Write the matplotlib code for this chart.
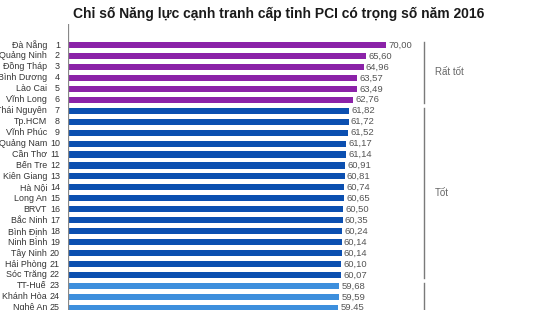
import matplotlib.pyplot as plt

plt.rcParams['font.family'] = ['Liberation Sans', 'DejaVu Sans']

# === Dữ liệu ===
provinces = ['Đà Nẵng', 'Quảng Ninh', 'Đồng Tháp', 'Bình Dương', 'Lào Cai', 'Vĩnh Long',
             'Thái Nguyên', 'Tp.HCM', 'Vĩnh Phúc', 'Quảng Nam', 'Cần Thơ', 'Bến Tre',
             'Kiên Giang', 'Hà Nội', 'Long An', 'BRVT', 'Bắc Ninh', 'Bình Định',
             'Ninh Bình', 'Tây Ninh', 'Hải Phòng', 'Sóc Trăng', 'TT-Huế', 'Khánh Hòa', 'Nghệ An']
ranks = list(range(1, 26))
scores = [70.00, 65.60, 64.96, 63.57, 63.49, 62.76, 61.82, 61.72, 61.52, 61.17, 61.14, 60.91,
          60.81, 60.74, 60.65, 60.50, 60.35, 60.24, 60.14, 60.14, 60.10, 60.07, 59.68, 59.59, 59.45]
groups = ['Rất tốt'] * 6 + ['Tốt'] * 16 + ['Khá'] * 3
group_labels = ['Rất tốt', 'Tốt', 'Khá']

colors = {'Rất tốt': '#8b22a8', 'Tốt': '#0b4fb0', 'Khá': '#3d8fdd'}

fig = plt.figure(figsize=(5.4, 3.1), dpi=100)
# trục bắt đầu tại x=68px, đỉnh tại y=24px
ax = fig.add_axes([68 / 540, 0, 472 / 540, 286 / 310])
ax.set_xlim(0, 472 / 4.549)
ax.set_ylim(24.2, -1.92)

ypos = list(range(len(scores)))
ax.barh(ypos, scores, height=0.56, color=[colors[g] for g in groups])

for y, v, name, r in zip(ypos, scores, provinces, ranks):
    ax.annotate(f'{v:.2f}'.replace('.', ','), xy=(v, y), xytext=(1.6, 0), textcoords='offset points',
                ha='left', va='center', fontsize=6.8, color='#555555')
    ax.annotate(name, xy=(0, y), xycoords=('axes fraction', 'data'), xytext=(-15.2, 0),
                textcoords='offset points', ha='right', va='center', fontsize=6.4, color='#333333')
    ax.annotate(str(r), xy=(0, y), xycoords=('axes fraction', 'data'), xytext=(-5.8, 0),
                textcoords='offset points', ha='right', va='center', fontsize=6.4, color='#333333')

# ngoặc nhóm bên phải
bx = 78.3
for g in group_labels:
    idx = [i for i, gg in enumerate(groups) if gg == g]
    top, bot = idx[0] - 0.28, idx[-1] + 0.28
    if g == group_labels[-1]:
        bot = 30
    ax.plot([bx, bx], [top, bot], color='#7a7a7a', lw=1.0, clip_on=True)
    mid = (idx[0] + idx[-1]) / 2
    if g != group_labels[-1]:
        ax.text(bx + 2.4, mid, g, ha='left', va='center', fontsize=7, color='#666666')

ax.axvline(0, color='#888888', lw=0.9)
for s in ax.spines.values():
    s.set_visible(False)
ax.set_xticks([])
ax.set_yticks([])

fig.text(0.517, 0.955, 'Chỉ số Năng lực cạnh tranh cấp tỉnh PCI có trọng số năm 2016',
         ha='center', va='center', fontsize=10, fontweight='bold', color='#1a1a1a')

fig.savefig('out.png', dpi=100)
